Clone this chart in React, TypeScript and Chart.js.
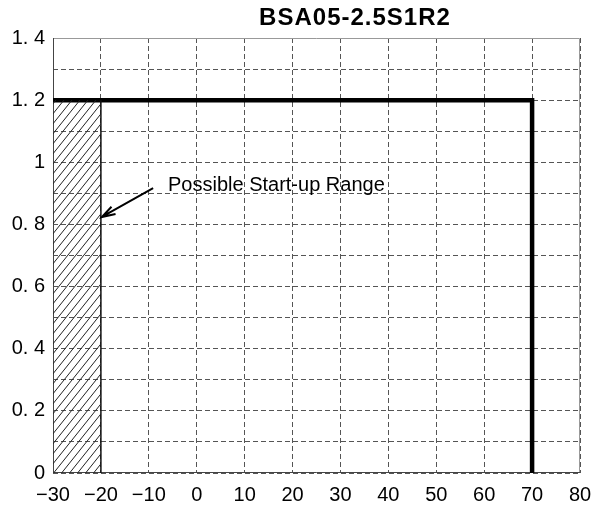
import React, { useEffect, useRef } from "react";
import { Chart, registerables } from "chart.js";

Chart.register(...registerables);

const chartTitle = "BSA05-2.5S1R2";
const xTickValues = [-30, -20, -10, 0, 10, 20, 30, 40, 50, 60, 70, 80];
const xTickLabels = ["\u221230", "\u221220", "\u221210", "0", "10", "20", "30", "40", "50", "60", "70", "80"];
const yTickLabels = ["0", "0. 2", "0. 4", "0. 6", "0. 8", "1", "1. 2", "1. 4"];

// operating limit line: Iout 1.2 up to 70 °C
const limitX = [-30, 70, 70];
const limitY = [1.2, 1.2, 0];

// hatched "possible start-up range"
const hatchX = [-30, -20];
const hatchY = [1.2, 1.2];
const hatchEdgeX = [-20, -20];
const hatchEdgeY = [0, 1.2];

const annotationText = "Possible Start-up Range";
const arrowFrom = { x: -9.1, y: 0.917 };
const arrowTo = { x: -19.8, y: 0.824 };
const textPos = { x: -6.0, y: 0.924 };

const FONT = "'Liberation Sans', Arial, sans-serif";

function makeHatch(): CanvasPattern | string {
  const w = 8, h = 10;
  const c = document.createElement("canvas");
  c.width = w;
  c.height = h;
  const g = c.getContext("2d");
  if (!g) return "rgba(0,0,0,0.2)";
  g.strokeStyle = "#222";
  g.lineWidth = 1;
  for (let k = -1; k <= 1; k++) {
    g.beginPath();
    g.moveTo(k * w, h);
    g.lineTo(k * w + w, 0);
    g.stroke();
  }
  return g.createPattern(c, "repeat") || "rgba(0,0,0,0.2)";
}

export default function App() {
  const ref = useRef<HTMLCanvasElement | null>(null);

  useEffect(() => {
    if (!ref.current) return;
    const pts = (xs: number[], ys: number[]) => xs.map((x, i) => ({ x, y: ys[i] }));

    const framePlugin = {
      id: "frame",
      beforeDatasetsDraw(chart: any) {
        const { ctx, chartArea: a } = chart;
        ctx.save();
        ctx.setLineDash([]);
        ctx.lineWidth = 1;
        ctx.strokeStyle = "#999";
        ctx.beginPath();
        ctx.moveTo(a.left, a.top + 0.5);
        ctx.lineTo(a.right - 0.5, a.top + 0.5);
        ctx.lineTo(a.right - 0.5, a.bottom);
        ctx.stroke();
        ctx.strokeStyle = "#444";
        ctx.beginPath();
        ctx.moveTo(a.left + 0.5, a.top);
        ctx.lineTo(a.left + 0.5, a.bottom - 0.5);
        ctx.lineTo(a.right, a.bottom - 0.5);
        ctx.stroke();
        ctx.restore();
      },
    };

    const annotPlugin = {
      id: "annot",
      afterDraw(chart: any) {
        const { ctx } = chart;
        const xs = chart.scales.x, ys = chart.scales.y;
        ctx.save();
        ctx.fillStyle = "#000";
        ctx.font = `bold 24px ${FONT}`;
        ctx.textAlign = "center";
        ctx.textBaseline = "middle";
        try { (ctx as any).letterSpacing = "1px"; } catch (e) {}
        ctx.fillText(chartTitle, 355, 18);
        try { (ctx as any).letterSpacing = "0px"; } catch (e) {}
        ctx.font = `20px ${FONT}`;
        ctx.textAlign = "left";
        ctx.textBaseline = "middle";
        ctx.fillText(annotationText, xs.getPixelForValue(textPos.x), ys.getPixelForValue(textPos.y));
        const x1 = xs.getPixelForValue(arrowFrom.x), y1 = ys.getPixelForValue(arrowFrom.y);
        const x2 = xs.getPixelForValue(arrowTo.x), y2 = ys.getPixelForValue(arrowTo.y);
        ctx.strokeStyle = "#000";
        ctx.lineWidth = 2;
        ctx.setLineDash([]);
        ctx.beginPath();
        ctx.moveTo(x1, y1);
        ctx.lineTo(x2, y2);
        const ang = Math.atan2(y1 - y2, x1 - x2);
        const len = 14, spread = 0.3;
        ctx.moveTo(x2 + len * Math.cos(ang + spread), y2 + len * Math.sin(ang + spread));
        ctx.lineTo(x2, y2);
        ctx.lineTo(x2 + len * Math.cos(ang - spread), y2 + len * Math.sin(ang - spread));
        ctx.stroke();
        ctx.restore();
      },
    };

    const chart = new Chart(ref.current, {
      type: "scatter",
      data: {
        datasets: [
          {
            data: pts(hatchX, hatchY),
            showLine: true,
            fill: "origin",
            backgroundColor: makeHatch() as any,
            borderWidth: 0,
            borderColor: "rgba(0,0,0,0)",
            pointRadius: 0,
          },
          {
            data: pts(hatchEdgeX, hatchEdgeY),
            showLine: true,
            borderColor: "#111",
            borderWidth: 1.5,
            pointRadius: 0,
            fill: false,
          },
          {
            data: pts(limitX, limitY),
            showLine: true,
            borderColor: "#000",
            borderWidth: 4.5,
            pointRadius: 0,
            fill: false,
            borderJoinStyle: "miter",
            borderCapStyle: "butt",
          },
        ],
      },
      options: {
        responsive: false,
        animation: false,
        layout: { padding: { top: 38, right: 12, left: 0, bottom: 0 } },
        plugins: {
          legend: { display: false },
          tooltip: { enabled: false },
          title: { display: false },
        },
        scales: {
          x: {
            type: "linear",
            min: -30,
            max: 80,
            afterFit: (s: any) => { s.height = 35; s.paddingLeft = 0; s.paddingRight = 0; },
            afterBuildTicks: (s: any) => { s.ticks = xTickValues.map((v) => ({ value: v })); },
            ticks: {
              padding: 10,
              color: "#000",
              font: { family: FONT, size: 20 },
              maxRotation: 0,
              autoSkip: false,
              callback: (v: any, i: number) => xTickLabels[i],
            },
            grid: { color: "#555", lineWidth: 1, drawTicks: false },
            border: { display: false, dash: [5, 3] },
          },
          y: {
            type: "linear",
            min: 0,
            max: 1.4,
            afterFit: (s: any) => { s.width = 53; s.paddingTop = 0; s.paddingBottom = 0; },
            ticks: {
              stepSize: 0.1,
              padding: 8,
              color: "#000",
              font: { family: FONT, size: 20 },
              autoSkip: false,
              callback: (v: any, i: number) => (i % 2 === 0 ? yTickLabels[i / 2] : ""),
            },
            grid: { color: "#555", lineWidth: 1, drawTicks: false },
            border: { display: false, dash: [5, 3] },
          },
        },
      },
      plugins: [framePlugin, annotPlugin],
    } as any);
    return () => chart.destroy();
  }, []);

  return (
    <div style={{ position: "fixed", left: 0, top: 0, width: 592, height: 508, background: "#fff" }}>
      <canvas ref={ref} width={592} height={508} style={{ display: "block", width: 592, height: 508 }} />
    </div>
  );
}
